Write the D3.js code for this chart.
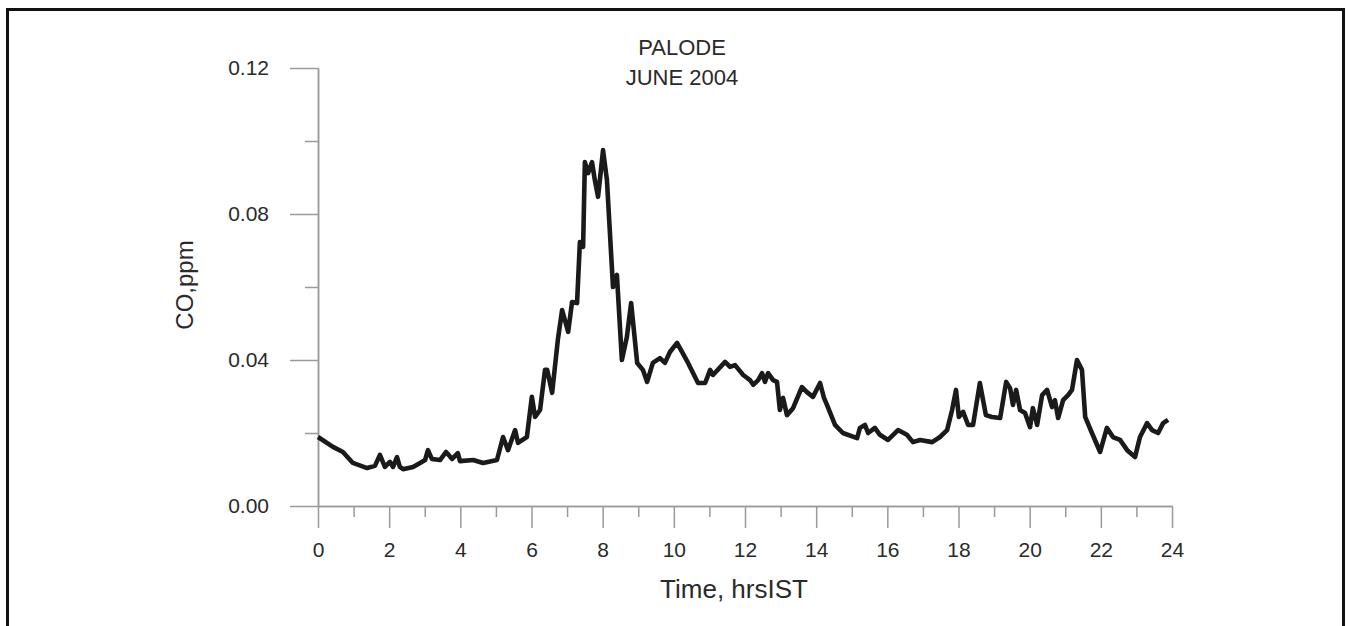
<!DOCTYPE html>
<html>
<head>
<meta charset="utf-8">
<script src="https://cdn.jsdelivr.net/npm/d3@7"></script>
<style>
  html, body { margin: 0; padding: 0; background: #fff; }
  svg { display: block; font-family: 'Liberation Sans', Arial, sans-serif; }
</style>
</head>
<body>
<svg id="chart" width="1350" height="626"></svg>
<script>
const width = 1350
const height = 626

// hours IST
const hours = [
  0.00, 0.42, 0.70, 0.98, 1.38, 1.60, 1.74, 1.88, 2.02, 2.11, 2.22, 2.30, 2.39, 2.67, 2.87,
  3.01, 3.09, 3.20, 3.43, 3.60, 3.77, 3.93, 3.99, 4.36, 4.64, 5.03, 5.20, 5.34, 5.54, 5.62,
  5.87, 6.01, 6.10, 6.24, 6.38, 6.44, 6.58, 6.74, 6.86, 7.03, 7.14, 7.28, 7.36, 7.45, 7.50,
  7.59, 7.70, 7.78, 7.87, 7.93, 8.01, 8.12, 8.29, 8.40, 8.54, 8.68, 8.80, 8.97, 9.13, 9.25,
  9.41, 9.61, 9.75, 9.89, 10.09, 10.23, 10.40, 10.68, 10.88, 11.02, 11.10, 11.44, 11.58, 11.72, 11.95,
  12.14, 12.23, 12.37, 12.48, 12.56, 12.65, 12.79, 12.90, 12.98, 13.07, 13.18, 13.35, 13.60, 13.74, 13.91,
  14.11, 14.22, 14.33, 14.53, 14.75, 15.15, 15.23, 15.37, 15.46, 15.65, 15.79, 16.02, 16.30, 16.55, 16.72,
  16.92, 17.26, 17.48, 17.68, 17.82, 17.93, 18.01, 18.13, 18.27, 18.41, 18.60, 18.77, 18.94, 19.17, 19.34,
  19.45, 19.53, 19.62, 19.73, 19.87, 20.01, 20.09, 20.21, 20.35, 20.49, 20.63, 20.71, 20.80, 20.94, 21.08,
  21.19, 21.33, 21.47, 21.56, 21.75, 21.98, 22.17, 22.34, 22.54, 22.74, 22.96, 23.10, 23.30, 23.44, 23.61,
  23.75, 23.89
]

// CO, ppm
const co = [
  0.0189, 0.0162, 0.0148, 0.0118, 0.0104, 0.0110, 0.0140, 0.0107, 0.0121, 0.0107, 0.0134, 0.0107, 0.0101, 0.0107, 0.0118,
  0.0126, 0.0153, 0.0129, 0.0126, 0.0148, 0.0129, 0.0145, 0.0123, 0.0126, 0.0118, 0.0126, 0.0189, 0.0153, 0.0208, 0.0173,
  0.0189, 0.0299, 0.0244, 0.0263, 0.0373, 0.0373, 0.0310, 0.0455, 0.0537, 0.0477, 0.0559, 0.0556, 0.0723, 0.0710, 0.0942,
  0.0912, 0.0942, 0.0893, 0.0847, 0.0901, 0.0975, 0.0893, 0.0600, 0.0633, 0.0400, 0.0463, 0.0556, 0.0392, 0.0373, 0.0340,
  0.0392, 0.0405, 0.0392, 0.0422, 0.0447, 0.0422, 0.0392, 0.0337, 0.0337, 0.0373, 0.0359, 0.0395, 0.0381, 0.0386, 0.0359,
  0.0345, 0.0332, 0.0345, 0.0364, 0.0340, 0.0364, 0.0345, 0.0340, 0.0263, 0.0296, 0.0249, 0.0268, 0.0326, 0.0312, 0.0299,
  0.0337, 0.0296, 0.0271, 0.0222, 0.0200, 0.0186, 0.0214, 0.0222, 0.0200, 0.0214, 0.0195, 0.0181, 0.0208, 0.0195, 0.0175,
  0.0181, 0.0175, 0.0189, 0.0208, 0.0263, 0.0318, 0.0244, 0.0258, 0.0222, 0.0222, 0.0337, 0.0249, 0.0244, 0.0241, 0.0340,
  0.0323, 0.0277, 0.0318, 0.0263, 0.0255, 0.0216, 0.0268, 0.0222, 0.0304, 0.0318, 0.0271, 0.0290, 0.0241, 0.0290, 0.0304,
  0.0318, 0.0400, 0.0373, 0.0244, 0.0200, 0.0148, 0.0214, 0.0189, 0.0181, 0.0153, 0.0134, 0.0189, 0.0227, 0.0208, 0.0200,
  0.0227, 0.0236
]

const xTicks = [0, 2, 4, 6, 8, 10, 12, 14, 16, 18, 20, 22, 24]
const xMinor = [1, 3, 5, 7, 9, 11, 13, 15, 17, 19, 21, 23]
const yTicks = [0, 0.04, 0.08, 0.12]
const yMinor = [0.02, 0.06, 0.10]

const titleLines = ['PALODE', 'JUNE 2004']
const xTitle = 'Time, hrsIST'
const yTitle = 'CO,ppm'

const margin = { left: 318, right: 178, top: 68, bottom: 120 }

const svg = d3.select('svg#chart')

// outer frame
svg.append('rect')
  .attr('x', 7.5)
  .attr('y', 9.5)
  .attr('width', 1336)
  .attr('height', 640)
  .attr('fill', 'none')
  .attr('stroke', '#111')
  .attr('stroke-width', 3)

const x = d3.scaleLinear().domain([0, 24]).range([margin.left, width - margin.right])
const y = d3.scaleLinear().domain([0, 0.12]).range([height - margin.bottom, margin.top])

const axisColor = '#9a9a9a'
const textColor = '#2a2a2a'

function styleAxis (g) {
  g.select('.domain').attr('stroke', axisColor).attr('stroke-width', 1.5)
  g.selectAll('.tick line').attr('stroke', axisColor).attr('stroke-width', 1.5)
  g.selectAll('.tick text')
    .attr('fill', textColor)
    .attr('font-size', 21)
    .attr('font-family', "'Liberation Sans', Arial, sans-serif")
}

// minor ticks first, then the labelled axes over them
svg.append('g')
  .attr('transform', `translate(0,${y(0)})`)
  .call(d3.axisBottom(x).tickValues(xMinor).tickSize(11).tickSizeOuter(0).tickFormat(''))
  .call(styleAxis)

svg.append('g')
  .attr('transform', `translate(${x(0)},0)`)
  .call(d3.axisLeft(y).tickValues(yMinor).tickSize(13).tickSizeOuter(0).tickFormat(''))
  .call(styleAxis)

svg.append('g')
  .attr('transform', `translate(0,${y(0)})`)
  .call(d3.axisBottom(x).tickValues(xTicks).tickSize(22).tickSizeOuter(0).tickPadding(14).tickFormat(d3.format('d')))
  .call(styleAxis)

svg.append('g')
  .attr('transform', `translate(${x(0)},0)`)
  .call(d3.axisLeft(y).tickValues(yTicks).tickSize(28).tickSizeOuter(0).tickPadding(21).tickFormat(d3.format('.2f')))
  .call(styleAxis)

// the series
const points = hours.map((h, i) => [h, co[i]])

svg.append('path')
  .datum(points)
  .attr('fill', 'none')
  .attr('stroke', '#1a1a1a')
  .attr('stroke-width', 4.6)
  .attr('stroke-linejoin', 'round')
  .attr('d', d3.line().x(d => x(d[0])).y(d => y(d[1])))

// titles
svg.append('g')
  .selectAll('text')
  .data(titleLines)
  .join('text')
  .attr('x', 682)
  .attr('y', (d, i) => 55 + i * 30)
  .attr('text-anchor', 'middle')
  .attr('font-size', 22)
  .attr('fill', textColor)
  .text(d => d)

svg.append('text')
  .attr('x', 734)
  .attr('y', 598)
  .attr('text-anchor', 'middle')
  .attr('font-size', 26)
  .attr('fill', textColor)
  .text(xTitle)

svg.append('text')
  .attr('transform', 'translate(193,285) rotate(-90)')
  .attr('text-anchor', 'middle')
  .attr('font-size', 24)
  .attr('fill', textColor)
  .text(yTitle)
</script>
</body>
</html>
